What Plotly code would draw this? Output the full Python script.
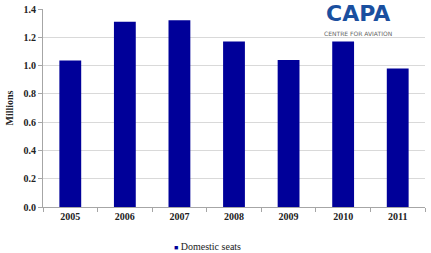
import plotly.graph_objects as go

years = ["2005", "2006", "2007", "2008", "2009", "2010", "2011"]
domestic_seats = [1.035, 1.31, 1.32, 1.17, 1.04, 1.17, 0.98]
series_name = "Domestic seats"
y_ticks = [0.0, 0.2, 0.4, 0.6, 0.8, 1.0, 1.2, 1.4]

bar_color = "#000099"
serif = "Liberation Serif"

fig = go.Figure()
fig.add_trace(go.Bar(
    x=years, y=domestic_seats, name=series_name,
    marker=dict(color=bar_color, line=dict(width=0)),
    showlegend=False,
))

fig.update_layout(
    width=431, height=253,
    margin=dict(l=43, r=6, t=9, b=46, autoexpand=False),
    paper_bgcolor="white", plot_bgcolor="white",
    bargap=0.6,
    font=dict(family=serif, size=10, color="#222222"),
    showlegend=False,
    xaxis=dict(
        type="category",
        showline=True, linecolor="#a6a6a6", linewidth=1,
        ticks="outside", tickson="boundaries", ticklen=4, tickcolor="#a6a6a6",
        tickfont=dict(family=serif, size=10, color="#222222", weight="bold"),
        showgrid=False,
    ),
    yaxis=dict(
        range=[0, 1.4], tickvals=y_ticks,
        ticktext=[f"{v:.1f}" for v in y_ticks],
        showline=True, linecolor="#a6a6a6", linewidth=1,
        ticks="outside", ticklen=4, tickcolor="#a6a6a6",
        showgrid=True, gridcolor="#d9d9d9", gridwidth=1,
        zeroline=False,
        tickfont=dict(family=serif, size=10, color="#222222", weight="bold"),
        title=dict(text="Millions", standoff=8,
                   font=dict(family=serif, size=10, color="#222222", weight="bold")),
    ),
    annotations=[
        dict(text="<b>CAPA</b>", xref="paper", yref="paper", x=0.825, y=0.975,
             xanchor="center", yanchor="middle", showarrow=False, borderpad=0,
             font=dict(family="DejaVu Sans", size=22, color="#1a4f9f")),
        dict(text="CENTRE FOR AVIATION", xref="paper", yref="paper", x=0.825, y=0.877,
             xanchor="center", yanchor="middle", showarrow=False, borderpad=0,
             font=dict(family="DejaVu Sans", size=6, color="#666666")),
        dict(text=f"<span style='color:{bar_color};font-size:7px'>■</span> {series_name}",
             xref="paper", yref="paper", x=0.338, y=-0.2,
             xanchor="left", yanchor="middle", showarrow=False,
             font=dict(family=serif, size=10, color="#222222")),
    ],
)

fig.write_html("out.html")
